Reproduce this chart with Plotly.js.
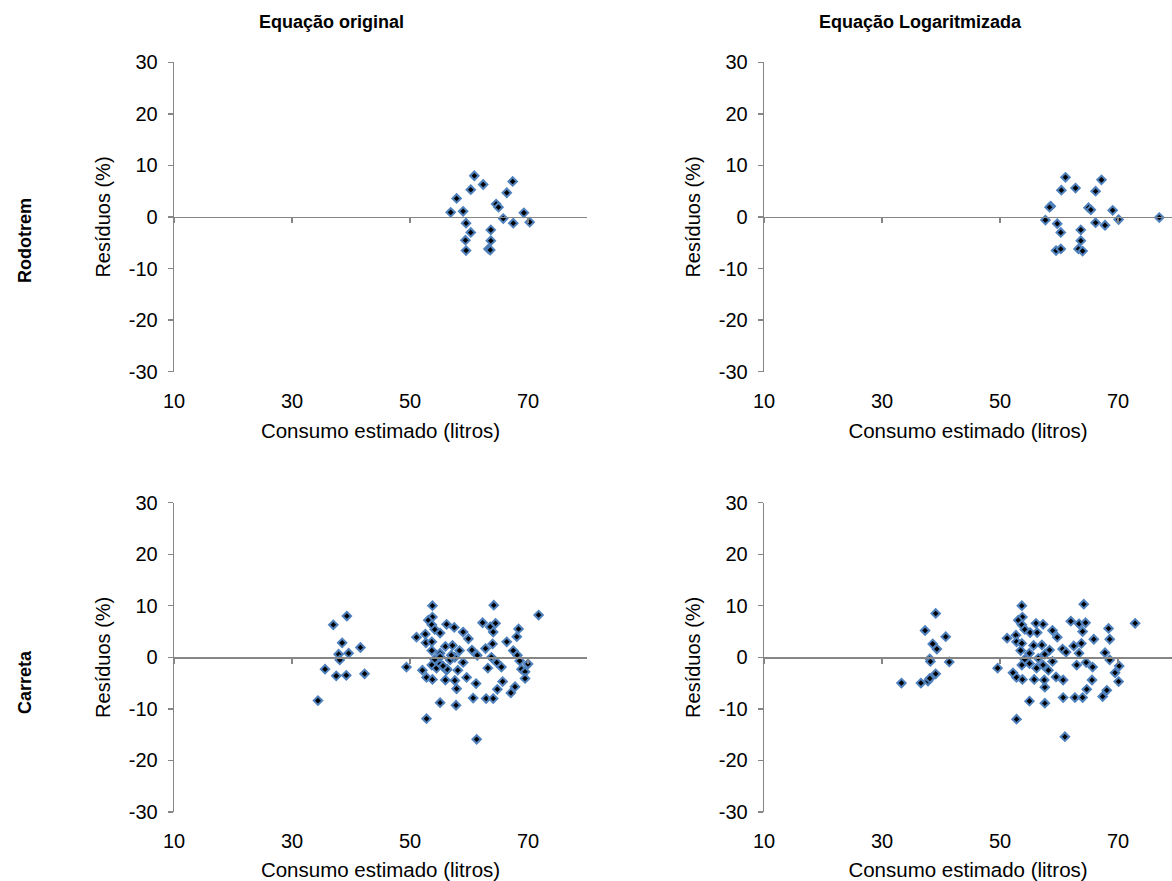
<!DOCTYPE html>
<html><head><meta charset="utf-8">
<script src="https://cdn.plot.ly/plotly-3.0.1.min.js"></script>
<style>body{margin:0;background:#fff}</style>
</head><body><div id="chart" style="width:1172px;height:881px"></div>
<script>
const colTitles = ["Equação original", "Equação Logaritmizada"];
const rowTitles = ["Rodotrem", "Carreta"];
const xTitle = "Consumo estimado (litros)";
const yTitle = "Resíduos (%)";
const xTicks = [10, 30, 50, 70];
const xTickText = ["10", "30", "50", "70"];
const yTicks = [-30, -20, -10, 0, 10, 20, 30];
const yTickText = ["-30", "-20", "-10", "0", "10", "20", "30"];

const rodoOrigX = [56.9,57.9,59.0,60.9,60.3,62.4,59.5,60.3,59.4,59.5,63.7,63.7,63.3,63.6,64.6,65.0,65.8,66.4,67.4,67.5,69.3,70.3];
const rodoOrigY = [0.9,3.6,1.1,8.0,5.3,6.3,-1.2,-3.0,-4.5,-6.5,-2.5,-4.6,-6.2,-6.4,2.5,1.9,-0.3,4.7,6.9,-1.2,0.8,-1.0];

const rodoLogX = [57.7,58.6,58.4,59.7,60.3,59.5,60.3,61.1,60.4,62.8,63.7,63.7,63.3,64.0,65.0,65.4,66.2,66.2,67.2,67.8,69.1,70.1,77.0];
const rodoLogY = [-0.6,2.1,1.9,-1.3,-3.0,-6.5,-6.2,7.7,5.2,5.6,-2.5,-4.6,-6.2,-6.6,1.8,1.4,-1.1,5.0,7.2,-1.6,1.3,-0.5,-0.1];

const carrOrigX = [34.4,35.6,37.0,39.3,38.5,37.9,38.1,39.6,37.5,39.2,41.6,42.3,49.4,
  53.8,53.8,53.1,53.7,54.2,56.2,55.1,51.1,52.6,52.7,53.7,53.7,55.1,56.0,54.2,52.1,53.7,54.5,52.8,53.8,55.1,56.0,56.2,55.1,52.8,
  64.2,71.8,57.5,59.0,59.9,62.3,63.6,64.5,64.1,68.4,68.1,66.4,64.0,62.8,60.5,61.4,58.4,57.2,57.6,56.8,59.0,63.8,64.7,65.5,63.2,67.5,68.2,68.6,70.0,68.9,69.5,69.5,58.1,56.3,59.6,57.6,57.9,61.2,65.7,64.8,67.8,67.1,60.7,62.9,64.1,57.8,61.3,55.1,55.6,57.0];
const carrOrigY = [-8.4,-2.3,6.3,8.0,2.8,0.6,-0.5,0.8,-3.6,-3.5,1.9,-3.2,-1.9,
  10.0,7.8,7.2,6.3,5.4,6.4,4.7,3.9,4.5,2.8,3.0,1.3,0.8,2.1,-0.4,-2.5,-1.5,-2.1,-3.9,-4.3,-1.3,-4.4,-2.5,-8.8,-11.9,
  10.1,8.2,5.8,4.9,3.6,6.7,5.9,6.6,4.9,5.5,4.0,3.0,2.6,1.7,1.4,0.4,1.3,2.3,0.0,-0.5,-1.0,0.0,-1.0,-1.9,-2.1,1.3,0.4,-0.7,-1.3,-2.3,-2.8,-4.1,-2.5,-2.3,-3.9,-4.5,-6.1,-5.1,-4.7,-6.2,-5.7,-6.9,-7.9,-8.0,-8.0,-9.3,-15.9,0.1,-1.7,0.4];

const carrLogX = [33.3,36.6,37.8,38.1,39.1,37.3,39.1,40.8,38.6,39.3,38.1,38.2,41.4,49.6,52.8,
  53.7,53.8,53.1,53.7,54.2,56.1,57.3,55.1,56.3,51.2,52.7,52.8,53.7,53.5,55.7,57.1,55.0,57.6,58.4,58.9,59.7,54.2,56.5,58.9,52.2,53.7,55.0,56.2,57.3,58.2,52.8,53.8,55.8,57.6,57.5,55.0,57.6,59.5,60.7,60.7,61.0,60.6,61.2,62.0,64.2,63.4,64.5,64.0,62.5,63.8,63.4,63.0,64.6,65.7,65.9,65.6,64.7,62.7,64.0,68.4,68.6,67.8,68.6,70.2,69.5,70.1,68.1,67.4,72.9];
const carrLogY = [-5.0,-5.0,-4.6,-4.1,-3.2,5.2,8.5,4.0,2.6,1.6,-0.3,-0.8,-0.9,-2.1,-12.0,
  10.0,7.8,7.2,6.3,5.4,6.6,6.4,4.8,4.8,3.7,4.3,3.0,2.7,1.3,2.3,2.4,0.8,0.6,1.4,5.2,3.9,-0.4,-0.2,-0.8,-3.0,-1.5,-1.2,-2.1,-1.5,-2.5,-3.9,-4.3,-4.3,-5.8,-4.4,-8.5,-8.9,-3.8,-4.4,-7.8,-15.4,1.6,1.0,7.0,10.3,6.5,6.7,5.0,2.2,2.7,0.8,-1.5,-1.0,-1.9,3.5,-4.4,-6.2,-7.8,-7.8,5.6,3.5,0.9,-0.5,-1.7,-3.0,-4.7,-6.4,-7.6,6.6];

const W = 1172, H = 881;
const font = "Liberation Sans, Arial, sans-serif";
const axisGray = "#868686";
const fs = 20;
const pxX = p => p / W;
const pxY = p => 1 - p / H;

const xDomL = [pxX(174), pxX(587)];
const xDomR = [pxX(764), 1];
const xRangeL = [10, 80];
const xRangeR = [10, 10 + (W - 764) / 5.9];
const yDomT = [pxY(371.7), pxY(62.3)];
const yDomB = [pxY(812), pxY(502.6)];

const panels = [
  {x: rodoOrigX, y: rodoOrigY, xd: xDomL, xr: xRangeL, yd: yDomT},
  {x: rodoLogX, y: rodoLogY, xd: xDomR, xr: xRangeR, yd: yDomT},
  {x: carrOrigX, y: carrOrigY, xd: xDomL, xr: xRangeL, yd: yDomB},
  {x: carrLogX, y: carrLogY, xd: xDomR, xr: xRangeR, yd: yDomB}
];

const data = [];
const layout = {
  width: W, height: H,
  margin: {l: 0, r: 0, t: 0, b: 0},
  paper_bgcolor: "#fff", plot_bgcolor: "rgba(0,0,0,0)",
  showlegend: false,
  font: {family: font, size: fs, color: "#000"},
  annotations: []
};

panels.forEach((p, i) => {
  const n = i + 1;
  const xa = "x" + n, ya = "y" + n;
  const ovx = "x" + (n + 4);
  data.push({
    type: "scatter", mode: "markers", x: p.x, y: p.y,
    xaxis: xa, yaxis: ya,
    marker: {symbol: "diamond", size: 6.5, color: "#000", line: {color: "#4F81BD", width: 2}},
    hoverinfo: "skip"
  });
  layout["xaxis" + n] = {
    domain: p.xd, range: p.xr, anchor: ya,
    showline: false, showgrid: false, zeroline: false,
    tickvals: xTicks, ticktext: xTickText, ticks: "outside", ticklen: 11, tickcolor: "rgba(0,0,0,0)",
    tickfont: {size: fs, family: font},
    title: {text: xTitle, font: {size: 20.5, family: font}, standoff: 12},
    fixedrange: true, automargin: false
  };
  layout["yaxis" + n] = {
    domain: p.yd, range: [-30, 30], anchor: xa,
    showline: true, linecolor: axisGray, linewidth: 1.3, mirror: false,
    showgrid: false, zeroline: false,
    tickvals: yTicks, ticktext: yTickText, ticks: "outside", ticklen: 5, tickcolor: axisGray, tickwidth: 1.3,
    ticklabelstandoff: 6,
    tickfont: {size: fs, family: font},
    title: {text: yTitle, font: {size: fs, family: font}, standoff: 12},
    fixedrange: true, automargin: false
  };
  layout["xaxis" + (n + 4)] = {
    domain: p.xd, range: p.xr, overlaying: xa, anchor: "free",
    position: (p.yd[0] + p.yd[1]) / 2,
    side: "bottom",
    showline: true, linecolor: axisGray, linewidth: 1.3,
    showgrid: false, zeroline: false,
    tickvals: xTicks, ticks: "outside", ticklen: 5, tickcolor: axisGray, tickwidth: 1.3,
    showticklabels: false, fixedrange: true, automargin: false
  };
  data.push({type: "scatter", mode: "markers", x: [], y: [], xaxis: ovx, yaxis: ya, hoverinfo: "skip", showlegend: false});
});

const ann = (text, x, y, angle) => ({
  text: "<b>" + text + "</b>", x: pxX(x), y: pxY(y), xref: "paper", yref: "paper",
  xanchor: "center", yanchor: "middle", showarrow: false, textangle: angle,
  font: {size: 18, family: font}
});
layout.annotations.push(
  ann(colTitles[0], 331, 22, 0),
  ann(colTitles[1], 920, 22, 0),
  ann(rowTitles[0], 25, 241, -90),
  ann(rowTitles[1], 25, 682, -90)
);

Plotly.newPlot("chart", data, layout, {staticPlot: true, displayModeBar: false});
</script>
</body></html>
